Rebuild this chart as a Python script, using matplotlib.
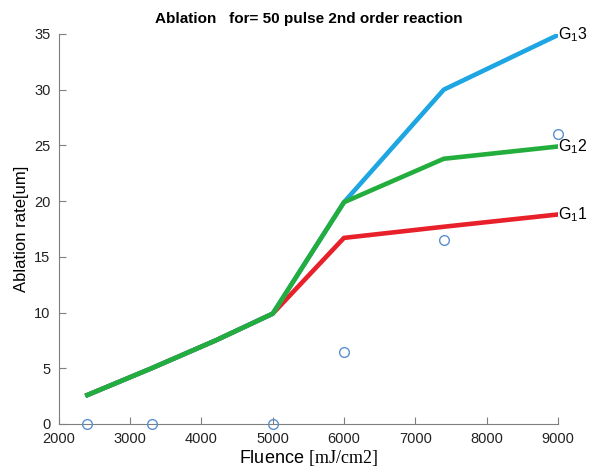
import matplotlib
matplotlib.use("Agg")
import matplotlib.pyplot as plt

plt.rcParams['font.family'] = ['Liberation Sans', 'DejaVu Sans']
plt.rcParams['mathtext.fontset'] = 'custom'
plt.rcParams['mathtext.rm'] = 'Liberation Serif'
plt.rcParams['mathtext.sf'] = 'Liberation Sans'

# shared part of the curves (below 5000)
base_x = [2400, 3300, 4200, 5000]
base_y = [2.6, 5.0, 7.5, 9.9]

# branches after 5000
branch_x = [5000, 6000, 7400, 9000]
g1_y = [9.9, 16.7, 17.7, 18.8]
g2_y = [9.9, 19.9, 23.8, 24.9]
g3_y = [9.9, 19.9, 30.0, 34.9]

# measured points
meas_x = [2400, 3300, 5000, 6000, 7400, 9000]
meas_y = [0, 0, 0, 6.5, 16.5, 26.0]

fig = plt.figure(figsize=(5.89, 4.73), dpi=100)
ax = fig.add_axes([0.100, 0.1036, 0.847, 0.8246])

lw = 3.3
ax.plot(base_x + branch_x[1:], base_y + g1_y[1:], color='#e8202a', lw=lw)
ax.plot(base_x + branch_x[1:], base_y + g3_y[1:], color='#1ea6e2', lw=lw)
ax.plot(base_x + branch_x[1:], base_y + g2_y[1:], color='#22ad3c', lw=lw)
ax.plot(meas_x, meas_y, 'o', mfc='none', mec='#5b8fce', ms=7, mew=1, clip_on=False, zorder=5)

for y, lab in zip([g1_y[-1], g2_y[-1], g3_y[-1]], ['1', '2', '3']):
    ax.text(branch_x[-1] + 10, y, r'G$_\mathsf{1}$' + lab, fontsize=11.5, va='center', ha='left')

ax.set_xlim(2000, 9000)
ax.set_ylim(0, 35)
ax.set_xticks(range(2000, 9001, 1000))
ax.set_yticks(range(0, 36, 5))

for s in ['top', 'right']:
    ax.spines[s].set_visible(False)
for s in ['left', 'bottom']:
    ax.spines[s].set_color('#7f7f7f')
ax.tick_params(direction='in', colors='#7f7f7f', labelcolor='#222222', labelsize=10.5, length=5)
ax.tick_params(axis='x', pad=6)
ax.tick_params(axis='y', pad=6)

ax.set_title('Ablation   for= 50 pulse 2nd order reaction', fontsize=11, fontweight='bold', pad=8)
ax.set_ylabel('Ablation rate[um]', fontsize=12, labelpad=4)
ax.set_xlabel(r'Fluence $\mathrm{[mJ/cm2]}$', fontsize=13, labelpad=1)

fig.savefig('out.png', dpi=100)
